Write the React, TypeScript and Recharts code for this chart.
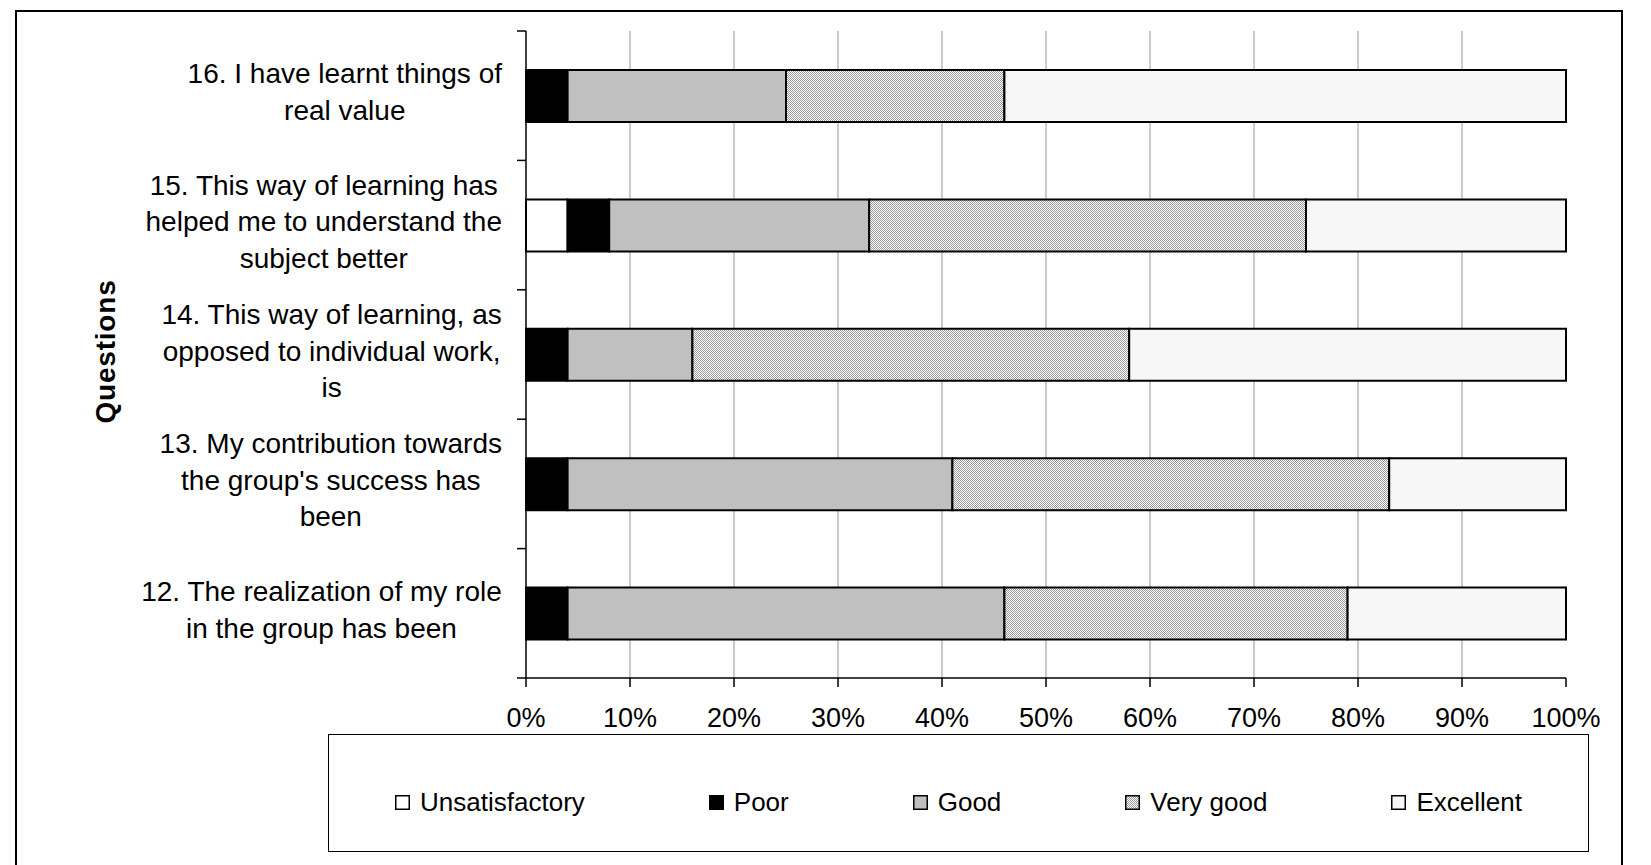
import React from "react";
import { BarChart, Bar, XAxis, YAxis, CartesianGrid, Legend, Label } from "recharts";

// ---------- data ----------
const questions = [
  "16. I have learnt things of\nreal value",
  "15. This way of learning has\nhelped me to understand the\nsubject better",
  "14. This way of learning, as\nopposed to individual work,\nis",
  "13. My contribution towards\nthe group's success has\nbeen",
  "12. The realization of my role\nin the group has been",
];
const unsatisfactory = [0, 4, 0, 0, 0];
const poor = [4, 4, 4, 4, 4];
const good = [21, 25, 12, 37, 42];
const veryGood = [21, 42, 42, 42, 33];
const excellent = [54, 25, 42, 17, 21];
const xTicks = [0, 10, 20, 30, 40, 50, 60, 70, 80, 90, 100];
const gridValues = [10, 20, 30, 40, 50, 60, 70, 80, 90];
const seriesNames = ["Unsatisfactory", "Poor", "Good", "Very good", "Excellent"];
const axisTitle = "Questions";

const data = questions.map((q, i) => ({
  question: q,
  [seriesNames[0]]: unsatisfactory[i],
  [seriesNames[1]]: poor[i],
  [seriesNames[2]]: good[i],
  [seriesNames[3]]: veryGood[i],
  [seriesNames[4]]: excellent[i],
}));

// ---------- layout ----------
const W = 1651;
const H = 865;
const FONT = '"Liberation Sans", Arial, Helvetica, sans-serif';
const FS = 27;
const FS_CAT = 28;
const FS_LEG = 26;
const M_LEFT = 16;
const Y_WIDTH = 510;
const AXIS_X = M_LEFT + Y_WIDTH; // 526
const M_TOP = 31;
const M_RIGHT = 85;
const X_HEIGHT = 40;
const M_BOTTOM = 147;
const PLOT_H = H - M_TOP - M_BOTTOM - X_HEIGHT;
const LABEL_RIGHT = 502;
const LINE_H = 36.5;

const fills = ["#ffffff", "#000000", "#c0c0c0", "url(#vgPattern)", "#f7f7f7"];

let ctx: CanvasRenderingContext2D | null = null;
function measure(t: string): number {
  if (!ctx) {
    const c = document.createElement("canvas");
    ctx = c.getContext("2d");
  }
  if (!ctx) return t.length * FS_CAT * 0.5;
  ctx.font = `${FS_CAT}px "Liberation Sans", Arial, sans-serif`;
  return ctx.measureText(t).width;
}

function QuestionTick(props: any) {
  const { y, payload, index } = props;
  const n = questions.length;
  const band = PLOT_H / n;
  const lines = String(payload.value).split("\n");
  const maxW = Math.max(...lines.map(measure));
  const cx = LABEL_RIGHT - maxW / 2;
  const k = lines.length;
  return (
    <g>
      <text textAnchor="middle" fontSize={FS_CAT} fill="#000" fontFamily={FONT}>
        {lines.map((l, i) => (
          <tspan key={i} x={cx} y={y + (i - (k - 1) / 2) * LINE_H + 6}>
            {l}
          </tspan>
        ))}
      </text>
      <line x1={AXIS_X - 9} x2={AXIS_X} y1={y - band / 2} y2={y - band / 2} stroke="#000" strokeWidth={1.5} />
      {index === n - 1 && (
        <line x1={AXIS_X - 9} x2={AXIS_X} y1={y + band / 2} y2={y + band / 2} stroke="#000" strokeWidth={1.5} />
      )}
    </g>
  );
}

function QuestionsTitle(props: any) {
  const vb = props.viewBox || {};
  const x = 105;
  const y = (vb.y ?? M_TOP) + (vb.height ?? PLOT_H) / 2 - 3;
  return (
    <text
      x={x}
      y={y}
      transform={`rotate(-90 ${x} ${y})`}
      textAnchor="middle"
      dominantBaseline="central"
      fontSize={28}
      letterSpacing={0.8}
      fontWeight="bold"
      fill="#000"
      fontFamily={FONT}
    >
      {axisTitle}
    </text>
  );
}

function LegendContent(props: any) {
  const payload = [...(props.payload || [])].sort(
    (a: any, b: any) => seriesNames.indexOf(a.value) - seriesNames.indexOf(b.value)
  );
  return (
    <div
      style={{
        display: "flex",
        alignItems: "center",
        justifyContent: "center",
        gap: 124,
        height: "100%",
        paddingTop: 18,
        boxSizing: "border-box",
        fontFamily: FONT,
        fontSize: FS_LEG,
        color: "#000",
      }}
    >
      {payload.map((e: any, i: number) => (
        <div key={i} style={{ display: "flex", alignItems: "center" }}>
          <svg width={15} height={15} style={{ marginRight: 10, display: "block" }}>
            <rect x={0.75} y={0.75} width={13.5} height={13.5} fill={e.color} stroke="#000" strokeWidth={1.5} />
          </svg>
          <span style={{ lineHeight: 1 }}>{e.value}</span>
        </div>
      ))}
    </div>
  );
}

export default function App() {
  return (
    <div
      style={{
        position: "relative",
        width: W,
        height: H,
        overflow: "hidden",
        background: "#fff",
        fontFamily: FONT,
      }}
    >
      <style>{"body{margin:0;}"}</style>
      <div
        style={{
          position: "absolute",
          left: 15,
          top: 10,
          width: 1608,
          height: 900,
          border: "2px solid #000",
          boxSizing: "border-box",
        }}
      />
      <div style={{ position: "absolute", left: 0, top: 0 }}>
        <BarChart
          width={W}
          height={H}
          data={data}
          layout="vertical"
          margin={{ top: M_TOP, right: M_RIGHT, bottom: M_BOTTOM, left: M_LEFT }}
        >
          <defs>
            <pattern id="vgPattern" x={0} y={0} width={2} height={2} patternUnits="userSpaceOnUse">
              <rect x={0} y={0} width={2} height={2} fill="#ffffff" />
              <rect x={0} y={0} width={1} height={1} fill="#9a9a9a" />
              <rect x={1} y={1} width={1} height={1} fill="#9a9a9a" />
            </pattern>
          </defs>
          <CartesianGrid horizontal={false} stroke="#a6a6a6" strokeWidth={1.2} verticalValues={gridValues} />
          <XAxis
            type="number"
            domain={[0, 100]}
            ticks={xTicks}
            interval={0}
            height={X_HEIGHT}
            tickFormatter={(v: number) => `${v}%`}
            tickSize={9}
            tickMargin={21}
            axisLine={{ stroke: "#000", strokeWidth: 1.5 }}
            tickLine={{ stroke: "#000", strokeWidth: 1.5 }}
            tick={{ fill: "#000", fontSize: FS, fontFamily: FONT }}
          />
          <YAxis
            type="category"
            dataKey="question"
            width={Y_WIDTH}
            interval={0}
            tickLine={false}
            tickSize={0}
            tickMargin={0}
            axisLine={{ stroke: "#000", strokeWidth: 1.5 }}
            tick={(p: any) => <QuestionTick {...p} />}
            label={<Label content={(p: any) => <QuestionsTitle {...p} />} />}
          />
          {seriesNames.map((name, i) => (
            <Bar
              key={name}
              dataKey={name}
              stackId="a"
              barSize={52}
              fill={fills[i]}
              stroke="#000"
              strokeWidth={2}
              isAnimationActive={false}
            />
          ))}
          <Legend
            layout="horizontal"
            verticalAlign="middle"
            align="center"
            itemSorter={null as any}
            content={(p: any) => <LegendContent {...p} />}
            wrapperStyle={{
              position: "absolute",
              left: 328,
              top: 734,
              width: 1261,
              height: 118,
              border: "1.5px solid #000",
              boxSizing: "border-box",
              margin: 0,
              background: "#fff",
            }}
          />
        </BarChart>
      </div>
    </div>
  );
}
